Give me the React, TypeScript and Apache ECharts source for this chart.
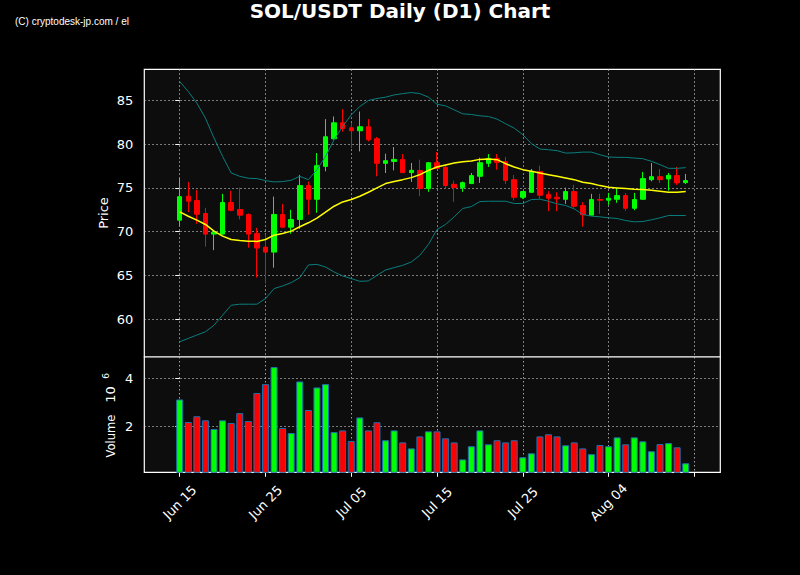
import React, { useEffect, useRef } from 'react';
import * as echarts from 'echarts';

// x positions are day offsets from Jun 15 (0 = Jun 15, 59 = Aug 13)
const tickDays = [0, 10, 20, 30, 40, 50, 60];
const tickLabels = ['Jun 15', 'Jun 25', 'Jul 05', 'Jul 15', 'Jul 25', 'Aug 04', ''];
const priceTicks = [60, 65, 70, 75, 80, 85];
const volumeTicks = [2, 4];

const opens = [
  71.32, 74.05, 73.56, 72.08, 69.73, 69.73, 73.33, 72.53, 71.97, 69.81,
  68.25, 67.68, 71.97, 70.52, 71.40, 75.26, 73.70, 77.45, 80.60, 82.42,
  81.85, 81.51, 81.97, 80.60, 77.80, 78.02, 78.25, 76.74, 76.97, 74.92,
  77.87, 77.34, 75.41, 75.03, 75.49, 76.32, 77.80, 78.36, 77.99, 75.94,
  73.93, 74.50, 76.85, 74.24, 73.93, 73.70, 74.58, 72.99, 71.89, 73.67,
  73.60, 73.70, 74.12, 72.68, 73.70, 75.94, 76.28, 76.02, 76.40, 75.60,
];
const closes = [
  74.00, 73.48, 72.00, 69.73, 69.95, 73.33, 72.45, 71.89, 69.73, 68.14,
  67.68, 71.97, 70.52, 71.40, 75.26, 73.70, 77.53, 80.83, 82.42, 81.77,
  81.51, 81.97, 80.49, 77.80, 78.10, 78.25, 76.74, 77.00, 74.92, 77.87,
  77.23, 75.26, 75.03, 75.60, 76.40, 77.87, 78.36, 77.91, 75.86, 73.93,
  74.58, 76.89, 74.16, 73.82, 73.75, 74.58, 72.91, 71.93, 73.67, 73.60,
  73.82, 74.12, 72.68, 73.67, 76.06, 76.28, 75.94, 76.43, 75.57, 75.83,
];
const lows = [
  70.64, 72.23, 70.91, 68.30, 67.90, 69.70, 72.34, 71.40, 68.18, 64.77,
  64.09, 65.90, 70.45, 69.77, 70.34, 71.93, 72.16, 76.89, 80.50, 81.40,
  79.54, 79.16, 80.30, 76.32, 76.70, 77.00, 76.70, 75.68, 74.05, 74.55,
  77.20, 74.92, 73.41, 74.55, 75.45, 75.57, 77.39, 77.08, 75.45, 73.56,
  73.75, 74.45, 73.75, 72.34, 72.34, 73.18, 72.73, 70.57, 71.85, 72.05,
  73.07, 73.30, 72.39, 72.45, 73.63, 75.75, 75.57, 74.69, 75.34, 75.45,
];
const highs = [
  76.14, 75.68, 74.77, 72.73, 70.05, 74.32, 74.66, 75.03, 72.08, 70.45,
  69.70, 74.01, 73.18, 72.50, 76.48, 75.72, 78.98, 82.84, 83.14, 83.98,
  82.38, 83.71, 82.84, 80.80, 78.90, 79.66, 78.86, 77.84, 78.22, 77.95,
  79.09, 77.61, 75.83, 75.72, 76.70, 78.44, 78.86, 78.86, 78.52, 76.48,
  74.62, 77.16, 77.53, 74.62, 74.50, 75.03, 75.34, 73.37, 74.32, 74.32,
  74.43, 74.89, 74.43, 74.43, 76.82, 77.84, 77.16, 76.70, 77.39, 76.59,
];
// volume in units of 10^6
const volumes = [
  3.12, 2.18, 2.42, 2.25, 1.89, 2.25, 2.14, 2.55, 2.22, 3.39,
  3.76, 4.47, 1.93, 1.72, 3.87, 2.68, 3.62, 3.76, 1.76, 1.83,
  1.39, 2.37, 1.83, 2.17, 1.42, 1.83, 1.33, 1.08, 1.58, 1.79,
  1.79, 1.50, 1.33, 0.62, 1.17, 1.83, 1.25, 1.42, 1.33, 1.42,
  0.71, 0.875, 1.58, 1.67, 1.58, 1.21, 1.33, 1.08, 0.84, 1.22,
  1.17, 1.54, 1.25, 1.54, 1.375, 0.96, 1.26, 1.30, 1.125, 0.46,
];
const sma = [
  72.27, 71.77, 71.32, 70.83, 70.07, 69.50, 69.12, 69.01, 68.93, 68.90,
  69.12, 69.61, 69.80, 70.07, 70.57, 71.02, 71.55, 72.23, 72.91, 73.40,
  73.67, 74.05, 74.50, 75.00, 75.49, 75.72, 75.94, 76.17, 76.51, 77.00,
  77.38, 77.61, 77.84, 77.99, 78.06, 78.25, 78.29, 78.22, 77.76, 77.38,
  77.08, 76.90, 76.70, 76.51, 76.32, 76.13, 75.94, 75.64, 75.49, 75.26,
  75.07, 75.00, 74.92, 74.84, 74.81, 74.73, 74.62, 74.50, 74.50, 74.58,
];
const upperBand = [
  87.12, 85.98, 84.66, 82.95, 80.68, 78.59, 76.70, 76.32, 76.10, 76.06,
  75.83, 75.68, 75.72, 75.87, 76.32, 75.94, 77.08, 78.59, 80.49, 82.00,
  83.33, 84.28, 84.96, 85.19, 85.34, 85.60, 85.75, 85.87, 85.75, 85.34,
  84.54, 84.35, 83.90, 83.44, 83.37, 83.22, 83.14, 82.84, 82.31, 81.81,
  81.06, 80.05, 79.43, 79.35, 79.24, 78.97, 79.00, 79.08, 79.08, 78.78,
  78.52, 78.48, 78.48, 78.40, 78.33, 78.03, 77.65, 77.23, 77.23, 77.31,
];
const lowerBand = [
  57.46, 57.84, 58.22, 58.60, 59.35, 60.49, 61.62, 61.74, 61.74, 61.74,
  62.38, 63.52, 63.82, 64.20, 64.77, 66.21, 66.28, 65.98, 65.41, 64.96,
  64.66, 64.35, 64.39, 65.03, 65.64, 65.91, 66.17, 66.55, 67.31, 68.56,
  70.26, 70.83, 71.70, 72.65, 72.87, 73.44, 73.48, 73.48, 73.48, 73.22,
  73.22, 73.67, 73.71, 73.48, 73.18, 72.99, 72.61, 71.97, 71.78, 71.70,
  71.59, 71.51, 71.28, 71.13, 71.17, 71.36, 71.59, 71.85, 71.85, 71.85,
];

const UP = '#00ff00';
const DOWN = '#ff0000';
const FONT = '"DejaVu Sans", sans-serif';

export default function App() {
  const ref = useRef<HTMLDivElement>(null);

  useEffect(() => {
    document.body.style.margin = '0';
    document.body.style.background = '#000';
    const chart = echarts.init(ref.current!, null, { renderer: 'svg' });

    const gridLine = { show: true, lineStyle: { color: 'rgba(200,200,200,0.8)', width: 1, type: [1.5, 2.5] } };
    const gridBox = { show: true, backgroundColor: '#0d0d0d', borderColor: '#ffffff', borderWidth: 1.2 };
    const xMin = -4.13;
    const xMax = 63.03;

    const option: any = {
      animation: false,
      backgroundColor: '#000000',
      grid: [
        { left: 144.3, top: 69.3, width: 576, height: 287.7, ...gridBox },
        { left: 144.3, top: 357, width: 576, height: 115.3, ...gridBox },
      ],
      xAxis: [
        {
          type: 'value', gridIndex: 0, min: xMin, max: xMax,
          axisLine: { show: false },
          axisTick: { show: false, customValues: tickDays },
          axisLabel: { show: false, customValues: tickDays },
          splitLine: gridLine,
        },
        {
          type: 'value', gridIndex: 1, min: xMin, max: xMax,
          axisLine: { show: false },
          axisTick: { show: true, customValues: tickDays, length: 4.5, lineStyle: { color: '#ffffff', width: 1 } },
          axisLabel: {
            customValues: tickDays,
            formatter: (v: number) => {
              const k = tickDays.indexOf(Math.round(v));
              return k >= 0 ? tickLabels[k] : '';
            },
            rotate: 45, align: 'center', verticalAlign: 'middle', margin: 30,
            color: '#ffffff', fontSize: 13, fontFamily: FONT,
          },
          splitLine: gridLine,
        },
      ],
      yAxis: [
        {
          type: 'value', gridIndex: 0, min: 55.72, max: 88.52,
          axisLine: { show: false },
          axisTick: { show: true, customValues: priceTicks, length: 4.5, lineStyle: { color: '#ffffff', width: 1 } },
          axisLabel: { customValues: priceTicks, color: '#ffffff', fontSize: 13, fontFamily: FONT, margin: 11 },
          splitLine: gridLine,
        },
        {
          type: 'value', gridIndex: 1, min: 0.083, max: 4.89,
          axisLine: { show: false },
          axisTick: { show: true, customValues: volumeTicks, length: 4.5, lineStyle: { color: '#ffffff', width: 1 } },
          axisLabel: { customValues: volumeTicks, color: '#ffffff', fontSize: 13, fontFamily: FONT, margin: 11 },
          splitLine: gridLine,
        },
      ],
      series: [
        {
          type: 'candlestick', xAxisIndex: 0, yAxisIndex: 0,
          data: opens.map((o, i) => [i, o, closes[i], lows[i], highs[i]]),
          encode: { x: 0, y: [1, 2, 3, 4] },
          barWidth: 5,
          itemStyle: { color: UP, color0: DOWN, borderColor: UP, borderColor0: DOWN, borderWidth: 1 },
        },
        {
          type: 'line', xAxisIndex: 0, yAxisIndex: 0, symbol: 'none',
          data: upperBand.map((v, i) => [i, v]),
          lineStyle: { color: '#0a7e7e', width: 1 },
        },
        {
          type: 'line', xAxisIndex: 0, yAxisIndex: 0, symbol: 'none',
          data: lowerBand.map((v, i) => [i, v]),
          lineStyle: { color: '#0a7e7e', width: 1 },
        },
        {
          type: 'line', xAxisIndex: 0, yAxisIndex: 0, symbol: 'none',
          data: sma.map((v, i) => [i, v]),
          lineStyle: { color: '#ffff00', width: 1.5 },
        },
        {
          type: 'bar', xAxisIndex: 1, yAxisIndex: 1, barWidth: 7,
          data: volumes.map((v, i) => ({
            value: [i, v],
            itemStyle: { color: closes[i] >= opens[i] ? UP : DOWN },
          })),
          itemStyle: { borderColor: '#1f6fb0', borderWidth: 1 },
        },
      ],
      graphic: [
        {
          type: 'text', x: 400, y: 10.5,
          style: { text: 'SOL/USDT Daily (D1) Chart', fill: '#ffffff', font: `bold 20px ${FONT}`, align: 'center', verticalAlign: 'middle' },
        },
        {
          type: 'text', x: 15, y: 21.5,
          style: { text: '(C) cryptodesk-jp.com / el', fill: '#ffffff', font: '10px "Liberation Sans", sans-serif', align: 'left', verticalAlign: 'middle' },
        },
        {
          type: 'text', x: 103, y: 213, rotation: Math.PI / 2,
          style: { text: 'Price', fill: '#ffffff', font: `13px ${FONT}`, align: 'center', verticalAlign: 'middle' },
        },
        {
          type: 'text', x: 110.5, y: 436, rotation: Math.PI / 2,
          style: { text: 'Volume', fill: '#ffffff', font: `11.5px ${FONT}`, align: 'center', verticalAlign: 'middle' },
        },
        {
          type: 'text', x: 110.5, y: 394.5, rotation: Math.PI / 2,
          style: { text: '10', fill: '#ffffff', font: `13px ${FONT}`, align: 'center', verticalAlign: 'middle' },
        },
        {
          type: 'text', x: 105.5, y: 376, rotation: Math.PI / 2,
          style: { text: '6', fill: '#ffffff', font: `9px ${FONT}`, align: 'center', verticalAlign: 'middle' },
        },
      ],
    };

    chart.setOption(option);
    return () => chart.dispose();
  }, []);

  return <div ref={ref} style={{ position: 'fixed', left: 0, top: 0, width: 800, height: 575 }} />;
}
